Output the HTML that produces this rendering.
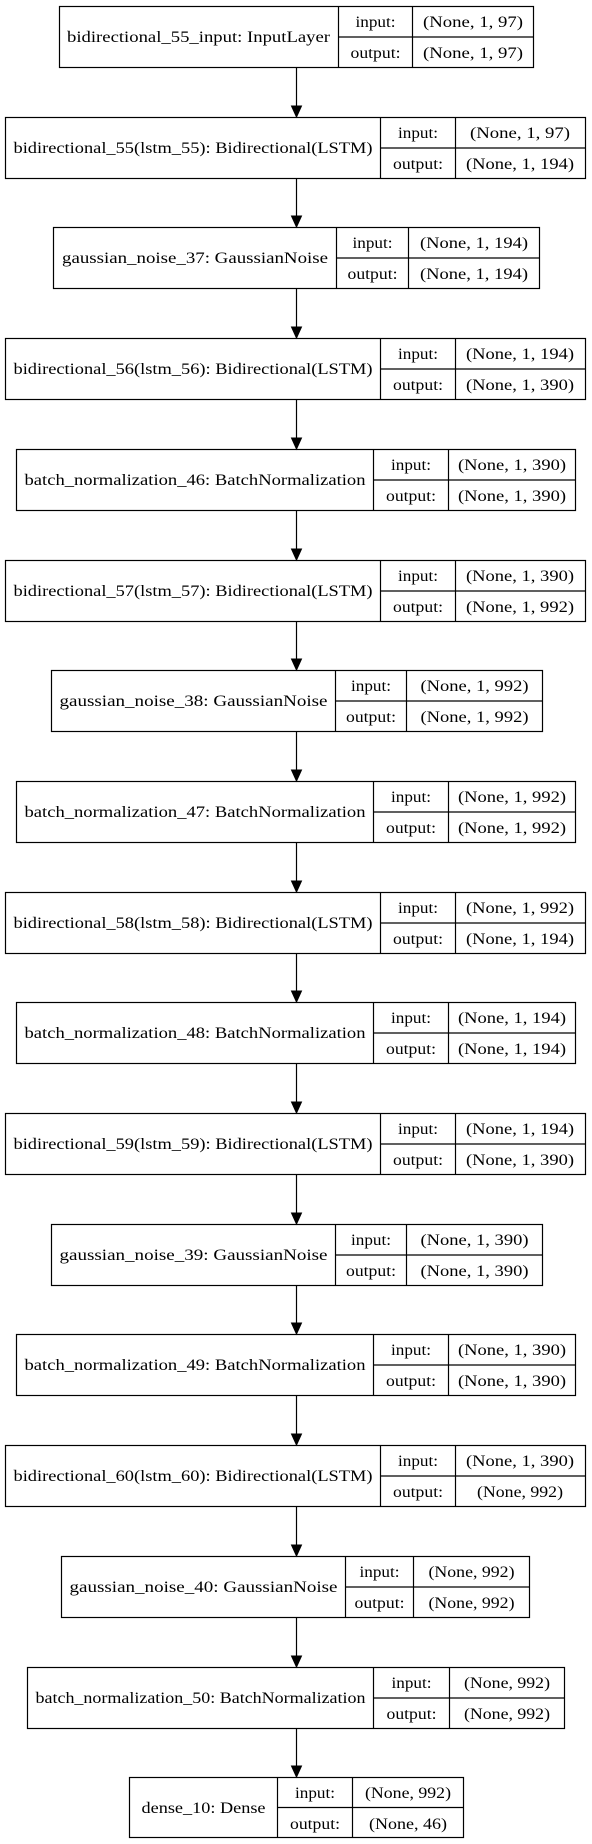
<!DOCTYPE html>
<html><head><meta charset="utf-8"><style>
html,body{margin:0;padding:0;background:#fff;}
svg{display:block;}
text{font-family:"Liberation Serif",serif;font-size:16px;fill:#000;}
.l{text-anchor:middle;}
rect,line{stroke:#000;stroke-width:1.2;fill:none;}
polygon{fill:#000;stroke:#000;}
</style></head><body>
<svg width="592" height="1844" viewBox="0 0 592 1844" xmlns="http://www.w3.org/2000/svg">
<rect x="0" y="0" width="592" height="1844" style="fill:#fff;stroke:none"/>

<!-- node 0 -->
<g transform="translate(0,6)">
<rect x="59.5" y="0.5" width="474" height="61"/><line x1="338.5" y1="0.5" x2="338.5" y2="61.5"/><line x1="412.5" y1="0.5" x2="412.5" y2="61.5"/><line x1="338.5" y1="31" x2="533.5" y2="31"/>
<text class="l" x="198.5" y="36" textLength="263" lengthAdjust="spacingAndGlyphs">bidirectional_55_input: InputLayer</text>
<text class="l" x="375.5" y="21" textLength="40" lengthAdjust="spacingAndGlyphs">input:</text>
<text class="l" x="375.5" y="52" textLength="50" lengthAdjust="spacingAndGlyphs">output:</text>
<text class="l" x="473" y="21" textLength="100" lengthAdjust="spacingAndGlyphs">(None, 1, 97)</text>
<text class="l" x="473" y="52" textLength="100" lengthAdjust="spacingAndGlyphs">(None, 1, 97)</text>
</g>

<!-- node 1 -->
<g transform="translate(0,117)">
<rect x="5.5" y="0.5" width="580" height="61"/><line x1="380.5" y1="0.5" x2="380.5" y2="61.5"/><line x1="455.5" y1="0.5" x2="455.5" y2="61.5"/><line x1="380.5" y1="31" x2="585.5" y2="31"/>
<text class="l" x="193" y="36" textLength="359" lengthAdjust="spacingAndGlyphs">bidirectional_55(lstm_55): Bidirectional(LSTM)</text>
<text class="l" x="418" y="21" textLength="40" lengthAdjust="spacingAndGlyphs">input:</text>
<text class="l" x="418" y="52" textLength="50" lengthAdjust="spacingAndGlyphs">output:</text>
<text class="l" x="520" y="21" textLength="100" lengthAdjust="spacingAndGlyphs">(None, 1, 97)</text>
<text class="l" x="520" y="52" textLength="108" lengthAdjust="spacingAndGlyphs">(None, 1, 194)</text>
</g>

<!-- node 2 -->
<g transform="translate(0,227)">
<rect x="53.5" y="0.5" width="486" height="61"/><line x1="336.5" y1="0.5" x2="336.5" y2="61.5"/><line x1="408.5" y1="0.5" x2="408.5" y2="61.5"/><line x1="336.5" y1="31" x2="539.5" y2="31"/>
<text class="l" x="195" y="36" textLength="266" lengthAdjust="spacingAndGlyphs">gaussian_noise_37: GaussianNoise</text>
<text class="l" x="372.5" y="21" textLength="40" lengthAdjust="spacingAndGlyphs">input:</text>
<text class="l" x="372.5" y="52" textLength="50" lengthAdjust="spacingAndGlyphs">output:</text>
<text class="l" x="474" y="21" textLength="108" lengthAdjust="spacingAndGlyphs">(None, 1, 194)</text>
<text class="l" x="474" y="52" textLength="108" lengthAdjust="spacingAndGlyphs">(None, 1, 194)</text>
</g>

<!-- node 3 -->
<g transform="translate(0,338)">
<rect x="5.5" y="0.5" width="580" height="61"/><line x1="380.5" y1="0.5" x2="380.5" y2="61.5"/><line x1="455.5" y1="0.5" x2="455.5" y2="61.5"/><line x1="380.5" y1="31" x2="585.5" y2="31"/>
<text class="l" x="193" y="36" textLength="359" lengthAdjust="spacingAndGlyphs">bidirectional_56(lstm_56): Bidirectional(LSTM)</text>
<text class="l" x="418" y="21" textLength="40" lengthAdjust="spacingAndGlyphs">input:</text>
<text class="l" x="418" y="52" textLength="50" lengthAdjust="spacingAndGlyphs">output:</text>
<text class="l" x="520" y="21" textLength="108" lengthAdjust="spacingAndGlyphs">(None, 1, 194)</text>
<text class="l" x="520" y="52" textLength="108" lengthAdjust="spacingAndGlyphs">(None, 1, 390)</text>
</g>

<!-- node 4 -->
<g transform="translate(0,449)">
<rect x="16.5" y="0.5" width="559" height="61"/><line x1="373.5" y1="0.5" x2="373.5" y2="61.5"/><line x1="448.5" y1="0.5" x2="448.5" y2="61.5"/><line x1="373.5" y1="31" x2="575.5" y2="31"/>
<text class="l" x="195" y="36" textLength="341" lengthAdjust="spacingAndGlyphs">batch_normalization_46: BatchNormalization</text>
<text class="l" x="411" y="21" textLength="40" lengthAdjust="spacingAndGlyphs">input:</text>
<text class="l" x="411" y="52" textLength="50" lengthAdjust="spacingAndGlyphs">output:</text>
<text class="l" x="512" y="21" textLength="108" lengthAdjust="spacingAndGlyphs">(None, 1, 390)</text>
<text class="l" x="512" y="52" textLength="108" lengthAdjust="spacingAndGlyphs">(None, 1, 390)</text>
</g>

<!-- node 5 -->
<g transform="translate(0,560)">
<rect x="5.5" y="0.5" width="580" height="61"/><line x1="380.5" y1="0.5" x2="380.5" y2="61.5"/><line x1="455.5" y1="0.5" x2="455.5" y2="61.5"/><line x1="380.5" y1="31" x2="585.5" y2="31"/>
<text class="l" x="193" y="36" textLength="359" lengthAdjust="spacingAndGlyphs">bidirectional_57(lstm_57): Bidirectional(LSTM)</text>
<text class="l" x="418" y="21" textLength="40" lengthAdjust="spacingAndGlyphs">input:</text>
<text class="l" x="418" y="52" textLength="50" lengthAdjust="spacingAndGlyphs">output:</text>
<text class="l" x="520" y="21" textLength="108" lengthAdjust="spacingAndGlyphs">(None, 1, 390)</text>
<text class="l" x="520" y="52" textLength="108" lengthAdjust="spacingAndGlyphs">(None, 1, 992)</text>
</g>

<!-- node 6 -->
<g transform="translate(0,670)">
<rect x="51.5" y="0.5" width="491" height="61"/><line x1="335.5" y1="0.5" x2="335.5" y2="61.5"/><line x1="406.5" y1="0.5" x2="406.5" y2="61.5"/><line x1="335.5" y1="31" x2="542.5" y2="31"/>
<text class="l" x="193.5" y="36" textLength="268" lengthAdjust="spacingAndGlyphs">gaussian_noise_38: GaussianNoise</text>
<text class="l" x="371" y="21" textLength="40" lengthAdjust="spacingAndGlyphs">input:</text>
<text class="l" x="371" y="52" textLength="50" lengthAdjust="spacingAndGlyphs">output:</text>
<text class="l" x="474.5" y="21" textLength="108" lengthAdjust="spacingAndGlyphs">(None, 1, 992)</text>
<text class="l" x="474.5" y="52" textLength="108" lengthAdjust="spacingAndGlyphs">(None, 1, 992)</text>
</g>

<!-- node 7 -->
<g transform="translate(0,781)">
<rect x="16.5" y="0.5" width="559" height="61"/><line x1="373.5" y1="0.5" x2="373.5" y2="61.5"/><line x1="448.5" y1="0.5" x2="448.5" y2="61.5"/><line x1="373.5" y1="31" x2="575.5" y2="31"/>
<text class="l" x="195" y="36" textLength="341" lengthAdjust="spacingAndGlyphs">batch_normalization_47: BatchNormalization</text>
<text class="l" x="411" y="21" textLength="40" lengthAdjust="spacingAndGlyphs">input:</text>
<text class="l" x="411" y="52" textLength="50" lengthAdjust="spacingAndGlyphs">output:</text>
<text class="l" x="512" y="21" textLength="108" lengthAdjust="spacingAndGlyphs">(None, 1, 992)</text>
<text class="l" x="512" y="52" textLength="108" lengthAdjust="spacingAndGlyphs">(None, 1, 992)</text>
</g>

<!-- node 8 -->
<g transform="translate(0,892)">
<rect x="5.5" y="0.5" width="580" height="61"/><line x1="380.5" y1="0.5" x2="380.5" y2="61.5"/><line x1="455.5" y1="0.5" x2="455.5" y2="61.5"/><line x1="380.5" y1="31" x2="585.5" y2="31"/>
<text class="l" x="193" y="36" textLength="359" lengthAdjust="spacingAndGlyphs">bidirectional_58(lstm_58): Bidirectional(LSTM)</text>
<text class="l" x="418" y="21" textLength="40" lengthAdjust="spacingAndGlyphs">input:</text>
<text class="l" x="418" y="52" textLength="50" lengthAdjust="spacingAndGlyphs">output:</text>
<text class="l" x="520" y="21" textLength="108" lengthAdjust="spacingAndGlyphs">(None, 1, 992)</text>
<text class="l" x="520" y="52" textLength="108" lengthAdjust="spacingAndGlyphs">(None, 1, 194)</text>
</g>

<!-- node 9 -->
<g transform="translate(0,1002)">
<rect x="16.5" y="0.5" width="559" height="61"/><line x1="373.5" y1="0.5" x2="373.5" y2="61.5"/><line x1="448.5" y1="0.5" x2="448.5" y2="61.5"/><line x1="373.5" y1="31" x2="575.5" y2="31"/>
<text class="l" x="195" y="36" textLength="341" lengthAdjust="spacingAndGlyphs">batch_normalization_48: BatchNormalization</text>
<text class="l" x="411" y="21" textLength="40" lengthAdjust="spacingAndGlyphs">input:</text>
<text class="l" x="411" y="52" textLength="50" lengthAdjust="spacingAndGlyphs">output:</text>
<text class="l" x="512" y="21" textLength="108" lengthAdjust="spacingAndGlyphs">(None, 1, 194)</text>
<text class="l" x="512" y="52" textLength="108" lengthAdjust="spacingAndGlyphs">(None, 1, 194)</text>
</g>

<!-- node 10 -->
<g transform="translate(0,1113)">
<rect x="5.5" y="0.5" width="580" height="61"/><line x1="380.5" y1="0.5" x2="380.5" y2="61.5"/><line x1="455.5" y1="0.5" x2="455.5" y2="61.5"/><line x1="380.5" y1="31" x2="585.5" y2="31"/>
<text class="l" x="193" y="36" textLength="359" lengthAdjust="spacingAndGlyphs">bidirectional_59(lstm_59): Bidirectional(LSTM)</text>
<text class="l" x="418" y="21" textLength="40" lengthAdjust="spacingAndGlyphs">input:</text>
<text class="l" x="418" y="52" textLength="50" lengthAdjust="spacingAndGlyphs">output:</text>
<text class="l" x="520" y="21" textLength="108" lengthAdjust="spacingAndGlyphs">(None, 1, 194)</text>
<text class="l" x="520" y="52" textLength="108" lengthAdjust="spacingAndGlyphs">(None, 1, 390)</text>
</g>

<!-- node 11 -->
<g transform="translate(0,1224)">
<rect x="51.5" y="0.5" width="491" height="61"/><line x1="335.5" y1="0.5" x2="335.5" y2="61.5"/><line x1="406.5" y1="0.5" x2="406.5" y2="61.5"/><line x1="335.5" y1="31" x2="542.5" y2="31"/>
<text class="l" x="193.5" y="36" textLength="268" lengthAdjust="spacingAndGlyphs">gaussian_noise_39: GaussianNoise</text>
<text class="l" x="371" y="21" textLength="40" lengthAdjust="spacingAndGlyphs">input:</text>
<text class="l" x="371" y="52" textLength="50" lengthAdjust="spacingAndGlyphs">output:</text>
<text class="l" x="474.5" y="21" textLength="108" lengthAdjust="spacingAndGlyphs">(None, 1, 390)</text>
<text class="l" x="474.5" y="52" textLength="108" lengthAdjust="spacingAndGlyphs">(None, 1, 390)</text>
</g>

<!-- node 12 -->
<g transform="translate(0,1334)">
<rect x="16.5" y="0.5" width="559" height="61"/><line x1="373.5" y1="0.5" x2="373.5" y2="61.5"/><line x1="448.5" y1="0.5" x2="448.5" y2="61.5"/><line x1="373.5" y1="31" x2="575.5" y2="31"/>
<text class="l" x="195" y="36" textLength="341" lengthAdjust="spacingAndGlyphs">batch_normalization_49: BatchNormalization</text>
<text class="l" x="411" y="21" textLength="40" lengthAdjust="spacingAndGlyphs">input:</text>
<text class="l" x="411" y="52" textLength="50" lengthAdjust="spacingAndGlyphs">output:</text>
<text class="l" x="512" y="21" textLength="108" lengthAdjust="spacingAndGlyphs">(None, 1, 390)</text>
<text class="l" x="512" y="52" textLength="108" lengthAdjust="spacingAndGlyphs">(None, 1, 390)</text>
</g>

<!-- node 13 -->
<g transform="translate(0,1445)">
<rect x="5.5" y="0.5" width="580" height="61"/><line x1="380.5" y1="0.5" x2="380.5" y2="61.5"/><line x1="455.5" y1="0.5" x2="455.5" y2="61.5"/><line x1="380.5" y1="31" x2="585.5" y2="31"/>
<text class="l" x="193" y="36" textLength="359" lengthAdjust="spacingAndGlyphs">bidirectional_60(lstm_60): Bidirectional(LSTM)</text>
<text class="l" x="418" y="21" textLength="40" lengthAdjust="spacingAndGlyphs">input:</text>
<text class="l" x="418" y="52" textLength="50" lengthAdjust="spacingAndGlyphs">output:</text>
<text class="l" x="520" y="21" textLength="108" lengthAdjust="spacingAndGlyphs">(None, 1, 390)</text>
<text class="l" x="520" y="52" textLength="86" lengthAdjust="spacingAndGlyphs">(None, 992)</text>
</g>

<!-- node 14 -->
<g transform="translate(0,1556)">
<rect x="61.5" y="0.5" width="468" height="61"/><line x1="345.5" y1="0.5" x2="345.5" y2="61.5"/><line x1="413.5" y1="0.5" x2="413.5" y2="61.5"/><line x1="345.5" y1="31" x2="529.5" y2="31"/>
<text class="l" x="203.5" y="36" textLength="268" lengthAdjust="spacingAndGlyphs">gaussian_noise_40: GaussianNoise</text>
<text class="l" x="379.5" y="21" textLength="40" lengthAdjust="spacingAndGlyphs">input:</text>
<text class="l" x="379.5" y="52" textLength="50" lengthAdjust="spacingAndGlyphs">output:</text>
<text class="l" x="471.5" y="21" textLength="86" lengthAdjust="spacingAndGlyphs">(None, 992)</text>
<text class="l" x="471.5" y="52" textLength="86" lengthAdjust="spacingAndGlyphs">(None, 992)</text>
</g>

<!-- node 15 -->
<g transform="translate(0,1667)">
<rect x="27.5" y="0.5" width="537" height="61"/><line x1="373.5" y1="0.5" x2="373.5" y2="61.5"/><line x1="449.5" y1="0.5" x2="449.5" y2="61.5"/><line x1="373.5" y1="31" x2="564.5" y2="31"/>
<text class="l" x="200.5" y="36" textLength="330" lengthAdjust="spacingAndGlyphs">batch_normalization_50: BatchNormalization</text>
<text class="l" x="411.5" y="21" textLength="40" lengthAdjust="spacingAndGlyphs">input:</text>
<text class="l" x="411.5" y="52" textLength="50" lengthAdjust="spacingAndGlyphs">output:</text>
<text class="l" x="507" y="21" textLength="86" lengthAdjust="spacingAndGlyphs">(None, 992)</text>
<text class="l" x="507" y="52" textLength="86" lengthAdjust="spacingAndGlyphs">(None, 992)</text>
</g>

<!-- node 16 -->
<g transform="translate(0,1777)">
<rect x="129.5" y="0.5" width="334" height="60"/><line x1="277.5" y1="0.5" x2="277.5" y2="60.5"/><line x1="352.5" y1="0.5" x2="352.5" y2="60.5"/><line x1="277.5" y1="30.5" x2="463.5" y2="30.5"/>
<text class="l" x="203.5" y="36" textLength="124" lengthAdjust="spacingAndGlyphs">dense_10: Dense</text>
<text class="l" x="315" y="21" textLength="40" lengthAdjust="spacingAndGlyphs">input:</text>
<text class="l" x="315" y="52" textLength="50" lengthAdjust="spacingAndGlyphs">output:</text>
<text class="l" x="408" y="21" textLength="86" lengthAdjust="spacingAndGlyphs">(None, 992)</text>
<text class="l" x="408" y="52" textLength="78" lengthAdjust="spacingAndGlyphs">(None, 46)</text>
</g>

<!-- arrows -->
<g>
<line x1="296.5" y1="68" x2="296.5" y2="106"/><polygon points="291.5,106 301.5,106 296.5,117"/>
<line x1="296.5" y1="179" x2="296.5" y2="216"/><polygon points="291.5,216 301.5,216 296.5,227"/>
<line x1="296.5" y1="289" x2="296.5" y2="327"/><polygon points="291.5,327 301.5,327 296.5,338"/>
<line x1="296.5" y1="400" x2="296.5" y2="438"/><polygon points="291.5,438 301.5,438 296.5,449"/>
<line x1="296.5" y1="511" x2="296.5" y2="549"/><polygon points="291.5,549 301.5,549 296.5,560"/>
<line x1="296.5" y1="622" x2="296.5" y2="659"/><polygon points="291.5,659 301.5,659 296.5,670"/>
<line x1="296.5" y1="732" x2="296.5" y2="770"/><polygon points="291.5,770 301.5,770 296.5,781"/>
<line x1="296.5" y1="843" x2="296.5" y2="881"/><polygon points="291.5,881 301.5,881 296.5,892"/>
<line x1="296.5" y1="954" x2="296.5" y2="991"/><polygon points="291.5,991 301.5,991 296.5,1002"/>
<line x1="296.5" y1="1064" x2="296.5" y2="1102"/><polygon points="291.5,1102 301.5,1102 296.5,1113"/>
<line x1="296.5" y1="1175" x2="296.5" y2="1213"/><polygon points="291.5,1213 301.5,1213 296.5,1224"/>
<line x1="296.5" y1="1286" x2="296.5" y2="1323"/><polygon points="291.5,1323 301.5,1323 296.5,1334"/>
<line x1="296.5" y1="1396" x2="296.5" y2="1434"/><polygon points="291.5,1434 301.5,1434 296.5,1445"/>
<line x1="296.5" y1="1507" x2="296.5" y2="1545"/><polygon points="291.5,1545 301.5,1545 296.5,1556"/>
<line x1="296.5" y1="1618" x2="296.5" y2="1656"/><polygon points="291.5,1656 301.5,1656 296.5,1667"/>
<line x1="296.5" y1="1729" x2="296.5" y2="1766"/><polygon points="291.5,1766 301.5,1766 296.5,1777"/>
</g>
</svg>
</body></html>
